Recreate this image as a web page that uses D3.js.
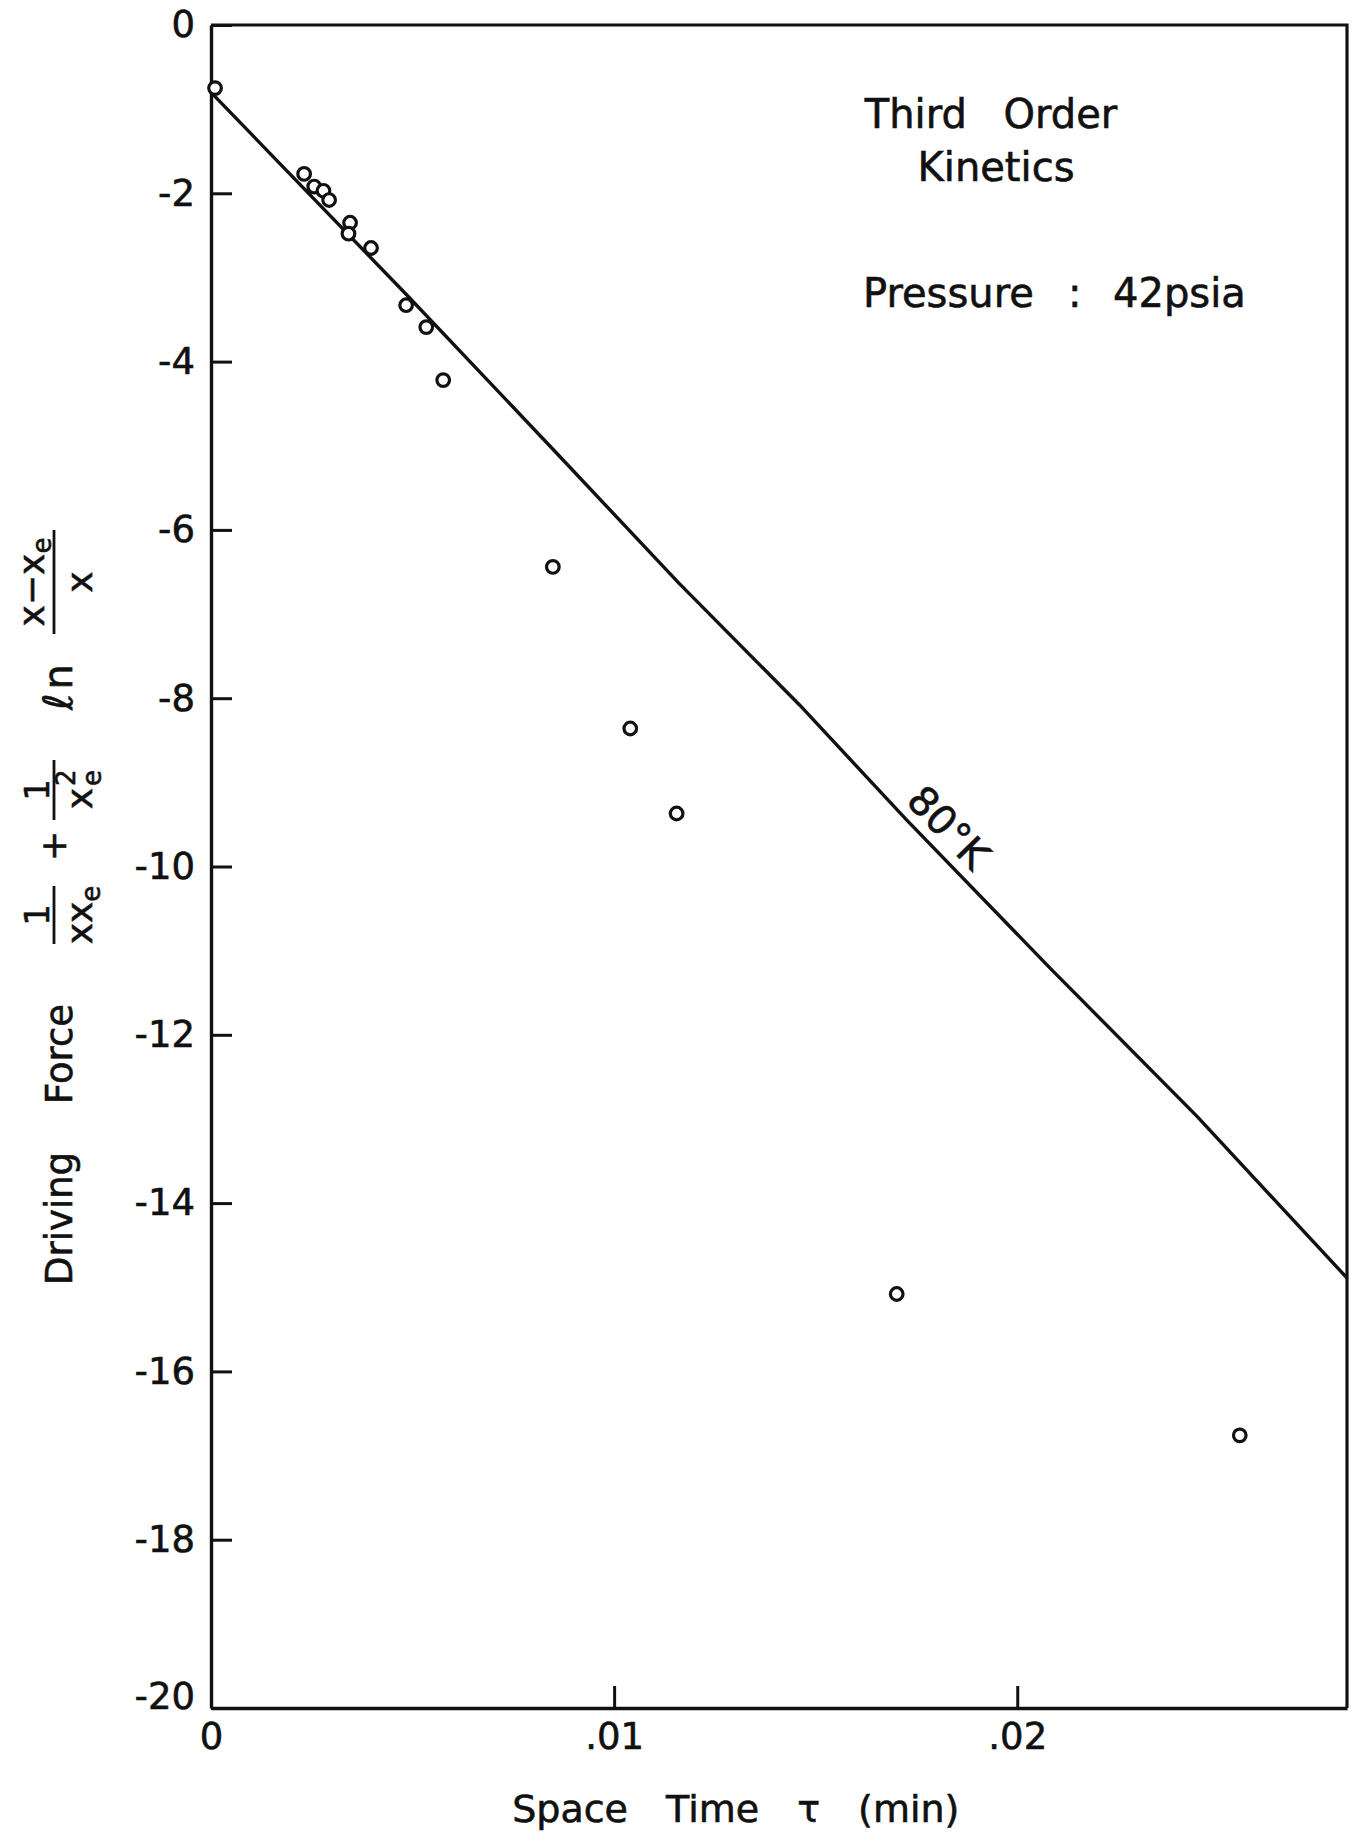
<!DOCTYPE html>
<html>
<head>
<meta charset="utf-8">
<script src="https://cdn.jsdelivr.net/npm/d3@7"></script>
<style>
  body { margin: 0; background: #fff; }
  svg { display: block; font-family: "DejaVu Sans", sans-serif; }
  svg text { stroke: #111; stroke-width: 0.6px; }
</style>
</head>
<body>
<div id="chart"></div>
<script>
// measured points (space time in min, driving force)
var tau = [0.0001, 0.00231, 0.00256, 0.00279, 0.00293, 0.00345, 0.00341, 0.00397,
           0.00484, 0.00534, 0.00576, 0.00848, 0.01040, 0.01155, 0.01701, 0.02552];
var force = [-0.75, -1.77, -1.92, -1.97, -2.08, -2.35, -2.48, -2.65,
             -3.33, -3.59, -4.22, -6.44, -8.36, -9.37, -15.08, -16.76];

// hand drawn 80 K line
var lineTau = [0, 0.00484, 0.0085, 0.0116, 0.0146, 0.01726, 0.02082, 0.02446, 0.02818];
var lineForce = [-0.80, -3.20, -5.05, -6.63, -8.08, -9.45, -11.21, -12.97, -14.89];

var xTicks = [0, 0.01, 0.02];
var xTickLabels = ["0", ".01", ".02"];
var yTicks = [0, -2, -4, -6, -8, -10, -12, -14, -16, -18, -20];

var ink = "#111";
var svgWidth = 1357;
var svgHeight = 1840;

var margin = {
  top: 25,
  bottom: 132,
  right: 10,
  left: 211
};

var width = svgWidth - margin.left - margin.right;
var height = svgHeight - margin.top - margin.bottom;

var svg = d3.select("#chart")
  .append("svg")
  .attr("width", svgWidth)
  .attr("height", svgHeight);

var chartGroup = svg.append("g")
  .attr("transform", `translate(${margin.left}, ${margin.top})`);

var xScale = d3.scaleLinear()
  .domain([0, 0.02818])
  .range([0, width]);

var yScale = d3.scaleLinear()
  .domain([-20, 0])
  .range([height, 0]);

// ticks point inward
var xAxis = d3.axisBottom(xScale)
  .tickValues(xTicks)
  .tickSize(-22)
  .tickSizeOuter(0)
  .tickPadding(15)
  .tickFormat((d, i) => xTickLabels[i]);

var yAxis = d3.axisLeft(yScale)
  .tickValues(yTicks)
  .tickSize(-21)
  .tickSizeOuter(0)
  .tickPadding(16)
  .tickFormat(d => d === 0 ? "0" : "-" + Math.abs(d));

var gx = chartGroup.append("g")
  .attr("transform", `translate(0, ${height})`)
  .call(xAxis);

var gy = chartGroup.append("g")
  .call(yAxis);

[gx, gy].forEach(function(g) {
  g.attr("font-family", null).attr("font-size", null);
  g.select(".domain").attr("stroke", ink).attr("stroke-width", 3.4);
  g.selectAll(".tick line").attr("stroke", ink).attr("stroke-width", 3);
  g.selectAll(".tick text").attr("fill", ink).attr("font-size", 37);
});

// lift the bottom label off the corner
gy.selectAll(".tick text").filter(d => d === -20).attr("dy", "0em");

// top and right edges of the frame
chartGroup.append("path")
  .attr("d", `M${xScale(0)},${yScale(0)}H${xScale.range()[1]}V${yScale(-20)}`)
  .attr("fill", "none")
  .attr("stroke", ink)
  .attr("stroke-width", 3.2);

var line = d3.line()
  .x(d => xScale(d[0]))
  .y(d => yScale(d[1]));

chartGroup.append("path")
  .datum(d3.zip(lineTau, lineForce))
  .attr("d", line)
  .attr("fill", "none")
  .attr("stroke", ink)
  .attr("stroke-width", 3.4)
  .attr("stroke-linejoin", "round");

chartGroup.selectAll("circle")
  .data(d3.zip(tau, force))
  .enter()
  .append("circle")
  .attr("cx", d => xScale(d[0]))
  .attr("cy", d => yScale(d[1]))
  .attr("r", 6.3)
  .attr("fill", "#fff")
  .attr("stroke", ink)
  .attr("stroke-width", 3.2);

// curve label, placed on the line
var onLine = d3.scaleLinear().domain(lineTau).range(lineForce);
var lt = 0.01785;
var lx = xScale(lt), ly = yScale(onLine(lt));
var ang = Math.atan2(yScale(onLine(lt + 0.002)) - ly, xScale(lt + 0.002) - lx) * 180 / Math.PI;
chartGroup.append("text")
  .attr("transform", `translate(${lx}, ${ly}) rotate(${ang})`)
  .attr("text-anchor", "middle")
  .attr("dy", -11)
  .attr("font-size", 40)
  .attr("fill", ink)
  .text("80°K");

// notes in the upper right
var notes = svg.append("g").attr("fill", ink).attr("font-size", 40);
notes.append("text")
  .attr("x", 991).attr("y", 128)
  .attr("text-anchor", "middle")
  .attr("word-spacing", 24)
  .text("Third Order");
notes.append("text")
  .attr("x", 996).attr("y", 181)
  .attr("text-anchor", "middle")
  .text("Kinetics");
var press = notes.append("text").attr("y", 307);
press.append("tspan").attr("x", 863).text("Pressure");
press.append("tspan").attr("x", 1068).text(":");
press.append("tspan").attr("x", 1113).text("42psia");

// x axis title
svg.append("text")
  .attr("x", margin.left + width * 0.462)
  .attr("y", 1822)
  .attr("text-anchor", "middle")
  .attr("font-size", 38)
  .attr("word-spacing", 26)
  .attr("fill", ink)
  .text("Space Time τ (min)");

// y axis title, laid out sideways
var yl = svg.append("g")
  .attr("transform", "translate(72, 0) rotate(-90)")
  .attr("fill", ink)
  .attr("font-size", 37);

yl.append("text").attr("x", -1285).text("Driving");
yl.append("text").attr("x", -1104).text("Force");

function bar(x1, x2) {
  yl.append("line")
    .attr("x1", x1).attr("x2", x2)
    .attr("y1", -18).attr("y2", -18)
    .attr("stroke", ink)
    .attr("stroke-width", 2.8);
}

// 1 / (x xe)
bar(-944, -886);
yl.append("text").attr("x", -915).attr("y", -23)
  .attr("text-anchor", "middle").attr("font-size", 34).text("1");
var dA = yl.append("text").attr("x", -915).attr("y", 20)
  .attr("text-anchor", "middle").attr("font-size", 36);
dA.append("tspan").text("xx");
dA.append("tspan").attr("font-size", 26).attr("dy", 8).text("e");

yl.append("text").attr("x", -846).attr("y", -6)
  .attr("text-anchor", "middle").attr("font-size", 36).text("+");

// 1 / xe^2
bar(-820, -760);
yl.append("text").attr("x", -790).attr("y", -23)
  .attr("text-anchor", "middle").attr("font-size", 34).text("1");
yl.append("text").attr("x", -788).attr("y", 20)
  .attr("text-anchor", "end").attr("font-size", 36).text("x");
yl.append("text").attr("x", -786).attr("y", 29)
  .attr("font-size", 26).text("e");
yl.append("text").attr("x", -786).attr("y", 3)
  .attr("font-size", 26).text("2");

yl.append("text").attr("x", -710).attr("y", 0)
  .attr("font-size", 40).attr("letter-spacing", 4).text("ℓn");

// (x - xe) / x
bar(-634, -530);
var nC = yl.append("text").attr("x", -582).attr("y", -28)
  .attr("text-anchor", "middle").attr("font-size", 36);
nC.append("tspan").text("x−x");
nC.append("tspan").attr("font-size", 26).attr("dy", 7).text("e");
yl.append("text").attr("x", -582).attr("y", 20)
  .attr("text-anchor", "middle").attr("font-size", 36).text("x");
</script>
</body>
</html>
